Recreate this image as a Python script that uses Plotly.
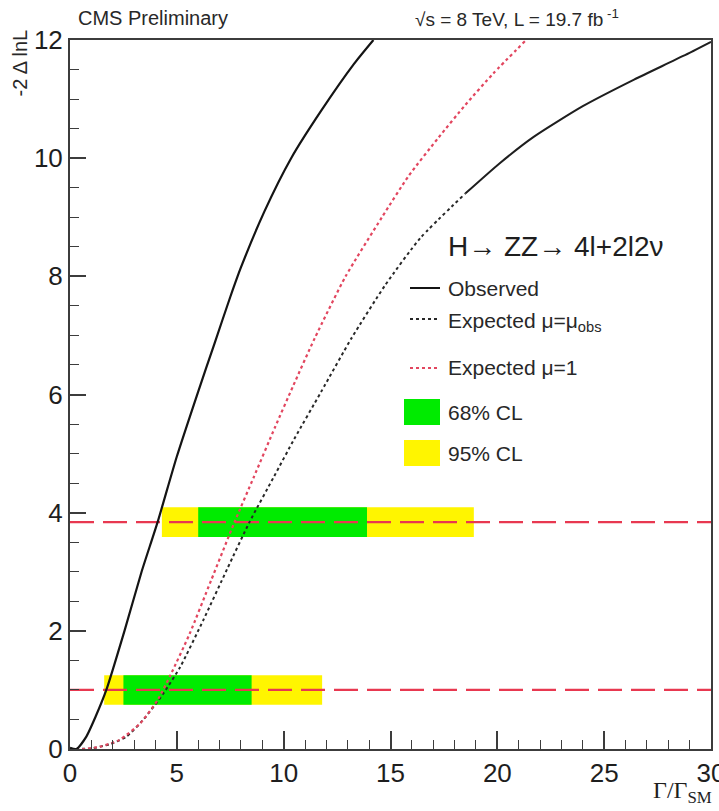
import plotly.graph_objects as go

# ---------------- data ----------------
obs_x = [0, 0.3, 0.75, 1.2, 1.7, 2.55, 3.35, 4.1, 5.0, 6.0, 6.75, 7.5, 8.0, 9.1, 10.35, 11.75, 13.3, 14.2]
obs_y = [0.02, 0.0, 0.2, 0.55, 1.0, 2.0, 3.0, 3.84, 4.95, 6.05, 6.85, 7.65, 8.15, 9.1, 10.0, 10.8, 11.6, 12.0]

exp1_x = [0, 0.7, 1.4, 2.3, 3.3, 4.1, 4.7, 5.6, 6.6, 7.7, 8.6, 9.6, 10.45, 11.45, 12.9, 14.6, 15.85, 17.25, 18.5, 19.8, 21.35]
exp1_y = [0, 0.0, 0.04, 0.15, 0.44, 0.83, 1.25, 1.95, 2.85, 3.84, 4.6, 5.45, 6.15, 6.95, 8.0, 9.0, 9.7, 10.35, 10.9, 11.43, 12.0]

expobs_x = [0, 1.0, 1.85, 2.64, 3.42, 4.37, 5.16, 6.25, 7.36, 8.4, 9.56, 10.5, 11.76, 13.17, 14.75, 16.4, 18.5, 20.1, 21.7, 24.0, 26.4, 28.7, 30.0]
expobs_y = [0, 0.01, 0.08, 0.21, 0.49, 0.94, 1.39, 2.19, 3.05, 3.84, 4.62, 5.25, 6.05, 6.95, 7.85, 8.65, 9.4, 9.91, 10.36, 10.88, 11.33, 11.73, 11.97]

levels = [1.0, 3.84]
band68_lo = [2.5, 6.0]
band68_hi = [8.5, 13.9]
band95_lo = [1.6, 4.3]
band95_hi = [11.8, 18.9]

x_ticks = [0, 5, 10, 15, 20, 25, 30]
y_ticks = [0, 2, 4, 6, 8, 10, 12]

# ---------------- layout helpers ----------------
W, H = 719, 811
L, R, T, B = 70, 8, 40, 62
PW, PH = W - L - R, H - T - B


def px(x):
    return (x - L) / PW


def py(y):
    return (H - B - y) / PH


GREEN = "rgb(0,235,0)"
YELLOW = "rgb(255,245,0)"
RED = "rgb(232,56,80)"
REDDOT = "rgb(226,70,95)"
FONT = "Liberation Sans"
TXT = "rgb(40,40,40)"

fig = go.Figure()

half = 0.25
# bands (95% first, then 68%)
for lo_arr, hi_arr, col in [(band95_lo, band95_hi, YELLOW), (band68_lo, band68_hi, GREEN)]:
    for lev, lo, hi in zip(levels, lo_arr, hi_arr):
        fig.add_trace(go.Scatter(
            x=[lo, hi, hi, lo, lo],
            y=[lev - half, lev - half, lev + half, lev + half, lev - half],
            fill="toself", fillcolor=col, mode="none", showlegend=False,
            hoverinfo="skip"))

# horizontal CL lines
for lev in levels:
    fig.add_trace(go.Scatter(
        x=[0, 30], y=[lev, lev], mode="lines",
        line=dict(color=RED, width=2.2, dash="24px,9px"), showlegend=False))

# expected mu = mu_obs (dotted lower part, solid upper part as in the reference)
split = 16
fig.add_trace(go.Scatter(
    x=expobs_x[:split + 1], y=expobs_y[:split + 1], mode="lines",
    line=dict(color="rgb(40,40,40)", width=2, dash="dot", shape="spline", smoothing=0.6),
    showlegend=False))
fig.add_trace(go.Scatter(
    x=expobs_x[split:], y=expobs_y[split:], mode="lines",
    line=dict(color="rgb(30,30,30)", width=2, shape="spline", smoothing=0.6),
    showlegend=False))

# expected mu = 1
fig.add_trace(go.Scatter(
    x=exp1_x, y=exp1_y, mode="lines",
    line=dict(color=REDDOT, width=2.2, dash="dot", shape="spline", smoothing=0.6),
    showlegend=False))

# observed
fig.add_trace(go.Scatter(
    x=obs_x, y=obs_y, mode="lines",
    line=dict(color="rgb(20,20,20)", width=2.2, shape="spline", smoothing=0.6),
    showlegend=False))

axis_common = dict(
    showline=True, linecolor="rgb(60,60,60)", linewidth=2, mirror=True, automargin=False,
    showgrid=False, zeroline=False, ticks="inside", tickcolor="rgb(60,60,60)",
    tickwidth=1.5, tickfont=dict(family=FONT, size=26, color="rgb(30,30,30)"),
    ticklabeloverflow="allow",
)

fig.update_xaxes(range=[0, 30], tickvals=x_ticks, ticklen=18,
                 minor=dict(dtick=1, ticks="inside", ticklen=9, tickcolor="rgb(60,60,60)", tickwidth=1.2),
                 **axis_common)
fig.update_yaxes(range=[0, 12], tickvals=y_ticks, ticklen=16,
                 minor=dict(dtick=0.5, ticks="inside", ticklen=9, tickcolor="rgb(60,60,60)", tickwidth=1.2),
                 **axis_common)

annotations = []
shapes = []

# header texts
annotations.append(dict(text="CMS Preliminary", x=px(76), y=py(18), xref="paper", yref="paper",
                        xanchor="left", yanchor="middle", showarrow=False,
                        font=dict(family=FONT, size=20, color=TXT)))
annotations.append(dict(text="√s = 8 TeV, L = 19.7 fb<sup> -1</sup>", x=px(413), y=py(18), xref="paper", yref="paper",
                        xanchor="left", yanchor="middle", showarrow=False,
                        font=dict(family=FONT, size=19, color=TXT)))
# axis titles
annotations.append(dict(text="-2 Δ lnL", x=px(19), y=py(28), xref="paper", yref="paper",
                        xanchor="center", yanchor="top", textangle=-90, showarrow=False,
                        font=dict(family=FONT, size=20, color=TXT)))
annotations.append(dict(text="Γ/Γ<sub>SM</sub>", x=px(714), y=py(792), xref="paper", yref="paper",
                        xanchor="right", yanchor="middle", showarrow=False,
                        font=dict(family="Liberation Serif", size=24, color="rgb(30,30,30)")))

# legend
annotations.append(dict(text="H→ ZZ→ 4l+2l2ν", x=px(446), y=py(246), xref="paper", yref="paper",
                        xanchor="left", yanchor="middle", showarrow=False,
                        font=dict(family=FONT, size=28, color="rgb(30,30,30)")))
leg_rows = [
    ("Observed", 288, 288, "solid", "rgb(20,20,20)"),
    ("Expected μ=μ<sub>obs</sub>", 322, 319, "dot", "rgb(40,40,40)"),
    ("Expected μ=1", 368, 368, "dot", REDDOT),
]
for text, yy, ly, dash, col in leg_rows:
    annotations.append(dict(text=text, x=px(446), y=py(yy), xref="paper", yref="paper",
                            xanchor="left", yanchor="middle", showarrow=False,
                            font=dict(family=FONT, size=21, color=TXT)))
    shapes.append(dict(type="line", xref="paper", yref="paper", x0=px(410), x1=px(440),
                       y0=py(ly), y1=py(ly), line=dict(color=col, width=2, dash=dash)))
for text, yy, col in [("68% CL", 412, GREEN), ("95% CL", 453, YELLOW)]:
    annotations.append(dict(text=text, x=px(446), y=py(yy), xref="paper", yref="paper",
                            xanchor="left", yanchor="middle", showarrow=False,
                            font=dict(family=FONT, size=21, color=TXT)))
    shapes.append(dict(type="rect", xref="paper", yref="paper", x0=px(404), x1=px(440),
                       y0=py(yy + 13), y1=py(yy - 13), fillcolor=col, line=dict(width=0)))

fig.update_layout(
    width=W, height=H, margin=dict(l=L, r=R, t=T, b=B),
    paper_bgcolor="white", plot_bgcolor="white", showlegend=False,
    annotations=annotations, shapes=shapes,
)

fig.write_html("out.html")
